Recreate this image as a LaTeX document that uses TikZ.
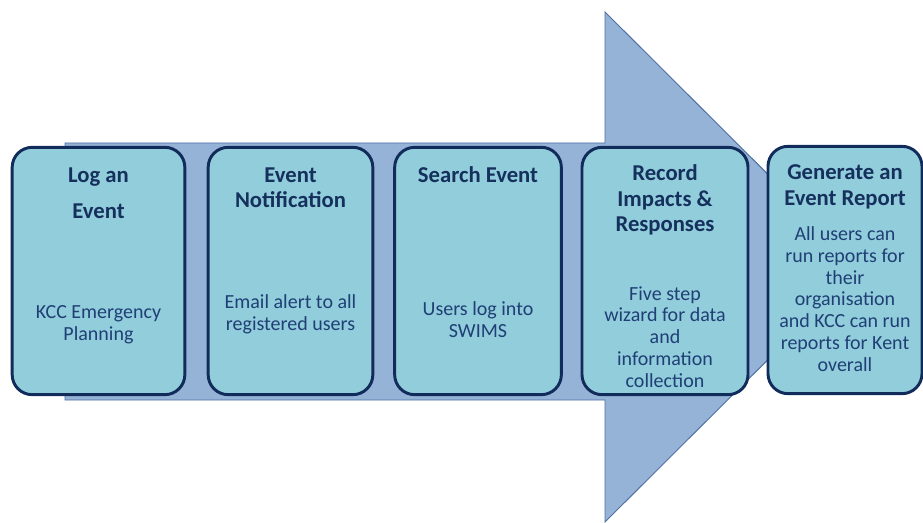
\documentclass[tikz,border=0pt]{standalone}
\usepackage{fontspec}
\setmainfont{Carlito}
\usetikzlibrary{calc}
\definecolor{arrowfill}{HTML}{95B3D7}
\definecolor{arrowline}{HTML}{4F6FA3}
\definecolor{boxfill}{HTML}{92CDDC}
\definecolor{boxline}{HTML}{112B5A}
\definecolor{headtext}{HTML}{15305C}
\definecolor{plaintext}{HTML}{1F3F75}
\tikzset{
	stepbox/.style={draw=boxline, line width=2.2pt, fill=boxfill, rounded corners=15pt, minimum height=185.5pt, inner sep=0pt},
	headline/.style={align=center, text=headtext, font=\fontsize{17}{19}\selectfont\bfseries, inner sep=0pt},
	bodyline/.style={align=center, text=plaintext, font=\fontsize{15}{16.4}\selectfont, inner sep=0pt}
}

\begin{document}
\begin{tikzpicture}[x=0.75pt, y=-0.75pt]
		%%%%% START %%%%%
		\useasboundingbox (0, 0) rectangle (923, 523);
		
		% the big arrow behind the steps
		\draw[arrowline, fill=arrowfill, line width=0.7pt] (65, 143) -- (605, 143) -- (605, 12) -- (861, 267) -- (605, 522) -- (605, 400) -- (65, 400) -- cycle;
		
		% the five steps
		\node[stepbox, minimum width=129.5pt] (log) at (98.5, 271) {};
		\node[stepbox, minimum width=123.5pt] (notify) at (290.5, 271) {};
		\node[stepbox, minimum width=125pt] (search) at (478, 271) {};
		\node[stepbox, minimum width=124.5pt] (record) at (665, 271) {};
		\node[stepbox, minimum width=115.5pt] (report) at (845, 270) {};
		
		% headings
		\node[headline] (logHead) at (98.5, 193) {Log an\\[8pt]Event};
		\node[headline] (notifyHead) at (290.5, 187.5) {Event\\Notification};
		\node[headline] (searchHead) at (478, 175) {Search Event};
		\node[headline] (recordHead) at (665, 200) {Record\\Impacts \&\\Responses};
		\node[headline] (reportHead) at (845, 187) {Generate an\\Event Report};
		
		% what happens at each step
		\node[bodyline] (logBody) at (98.5, 325) {KCC Emergency\\Planning};
		\node[bodyline] (notifyBody) at (290.5, 314) {Email alert to all\\registered users};
		\node[bodyline] (searchBody) at (478, 320) {Users log into\\SWIMS};
		\node[bodyline] (recordBody) at (665, 337) {Five step\\wizard for data\\and\\information\\collection};
		\node[bodyline] (reportBody) at (845, 299) {All users can\\run reports for\\their\\organisation\\and KCC can run\\reports for Kent\\overall};
		%%%%% END %%%%%
	\end{tikzpicture}
\end{document}
